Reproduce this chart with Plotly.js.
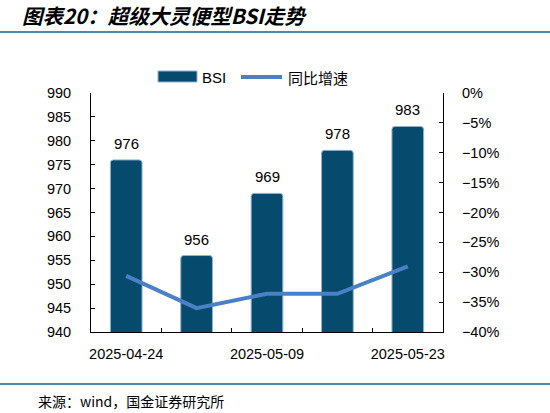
<!DOCTYPE html>
<html>
<head>
<meta charset="utf-8">
<script src="https://cdn.plot.ly/plotly-3.0.1.min.js"></script>
<style>
  html, body { margin: 0; padding: 0; background: #fff; }
  #chart { width: 550px; height: 413px; }
</style>
</head>
<body>
<div id="chart"></div>
<script>
const dates = ['2025-04-24', '2025-05-02', '2025-05-09', '2025-05-16', '2025-05-23'];
const bsiValues = [976, 956, 969, 978, 983];
const yoyValues = [-30.6, -36.0, -33.6, -33.6, -29.0];

const fontFamily = 'Arial, "Liberation Sans", "Noto Sans CJK SC", sans-serif';
const cjkFamily = '"Noto Sans CJK SC", sans-serif';

// plot area in px: x 91..443, y 93..332
const PW = 352, PH = 239, PL = 91, PT = 93;
const px = v => (v - PL) / PW;
const py = v => 1 - (v - PT) / PH;

const traces = [
  {
    x: dates,
    y: bsiValues,
    type: 'bar',
    name: 'BSI',
    marker: { color: '#064a6e', line: { color: '#8fb3cc', width: 1 }, cornerradius: 3 },
    width: 0.45,
    showlegend: false
  },
  {
    x: dates,
    y: yoyValues,
    type: 'scatter',
    mode: 'lines',
    name: '同比增速',
    yaxis: 'y2',
    line: { color: '#4a80c4', width: 4 },
    showlegend: false
  }
];

// value labels above bars
const barLabels = dates.map((d, i) => ({
  x: d, y: bsiValues[i], xref: 'x', yref: 'y',
  text: String(bsiValues[i]),
  showarrow: false, yanchor: 'bottom', yshift: 6,
  font: { size: 15, color: '#000' }
}));

const layout = {
  width: 550,
  height: 413,
  margin: { l: 91, r: 107, t: 93, b: 81 },
  paper_bgcolor: '#fff',
  plot_bgcolor: '#fff',
  font: { family: fontFamily, size: 14, color: '#000' },
  title: {
    text: '图表20：超级大灵便型BSI走势',
    x: 22 / 550, xanchor: 'left', xref: 'container',
    y: 1 - 17 / 413, yanchor: 'middle', yref: 'container',
    font: { family: cjkFamily, size: 20.5, style: 'italic', weight: 700, color: '#000' }
  },
  showlegend: false,
  bargap: 0.55,
  xaxis: {
    type: 'category',
    showline: true, linecolor: '#000', linewidth: 1,
    ticks: 'inside', ticklen: 4, tickcolor: '#000',
    tickson: 'boundaries',
    ticklabelstep: 2,
    tickangle: 0,
    tickfont: { size: 14.5 },
    ticklabelstandoff: 9,
    showgrid: false,
    zeroline: false
  },
  yaxis: {
    range: [940, 990],
    dtick: 5,
    showline: true, linecolor: '#000', linewidth: 1,
    ticks: 'inside', ticklen: 4, tickcolor: '#000',
    showgrid: false, zeroline: false,
    tickfont: { size: 14.5 },
    ticklabelstandoff: 16
  },
  yaxis2: {
    overlaying: 'y',
    side: 'right',
    range: [-40, 0],
    dtick: 5,
    ticksuffix: '%',
    showline: true, linecolor: '#000', linewidth: 1,
    ticks: 'inside', ticklen: 4, tickcolor: '#000',
    showgrid: false, zeroline: false,
    tickfont: { size: 14.5 },
    ticklabelstandoff: 15
  },
  shapes: [
    // header and footer rules
    { type: 'line', xref: 'paper', yref: 'paper', x0: px(0), x1: px(550), y0: py(32), y1: py(32), line: { color: '#1f5f80', width: 1.5 } },
    { type: 'line', xref: 'paper', yref: 'paper', x0: px(0), x1: px(550), y0: py(384), y1: py(384), line: { color: '#1f5f80', width: 1.5 } },
    // legend symbols
    { type: 'rect', xref: 'paper', yref: 'paper', x0: px(158), x1: px(197), y0: py(82), y1: py(71), fillcolor: '#064a6e', line: { color: '#8fb3cc', width: 1 } },
    { type: 'line', xref: 'paper', yref: 'paper', x0: px(241), x1: px(282), y0: py(77), y1: py(77), line: { color: '#4a80c4', width: 4 } }
  ],
  annotations: barLabels.concat([
    {
      text: 'BSI',
      xref: 'paper', yref: 'paper',
      x: px(200), xanchor: 'left', y: py(77), yanchor: 'middle',
      showarrow: false, font: { size: 15, color: '#000' }
    },
    {
      text: '同比增速',
      xref: 'paper', yref: 'paper',
      x: px(286), xanchor: 'left', y: py(77), yanchor: 'middle',
      showarrow: false, font: { family: cjkFamily, size: 15, color: '#000' }
    },
    {
      text: '来源：wind，国金证券研究所',
      xref: 'paper', yref: 'paper',
      x: px(36), xanchor: 'left',
      y: py(401), yanchor: 'middle',
      showarrow: false,
      font: { family: cjkFamily, size: 14, color: '#000' }
    }
  ])
};

Plotly.newPlot('chart', traces, layout, { displayModeBar: false, staticPlot: true });
</script>
</body>
</html>
